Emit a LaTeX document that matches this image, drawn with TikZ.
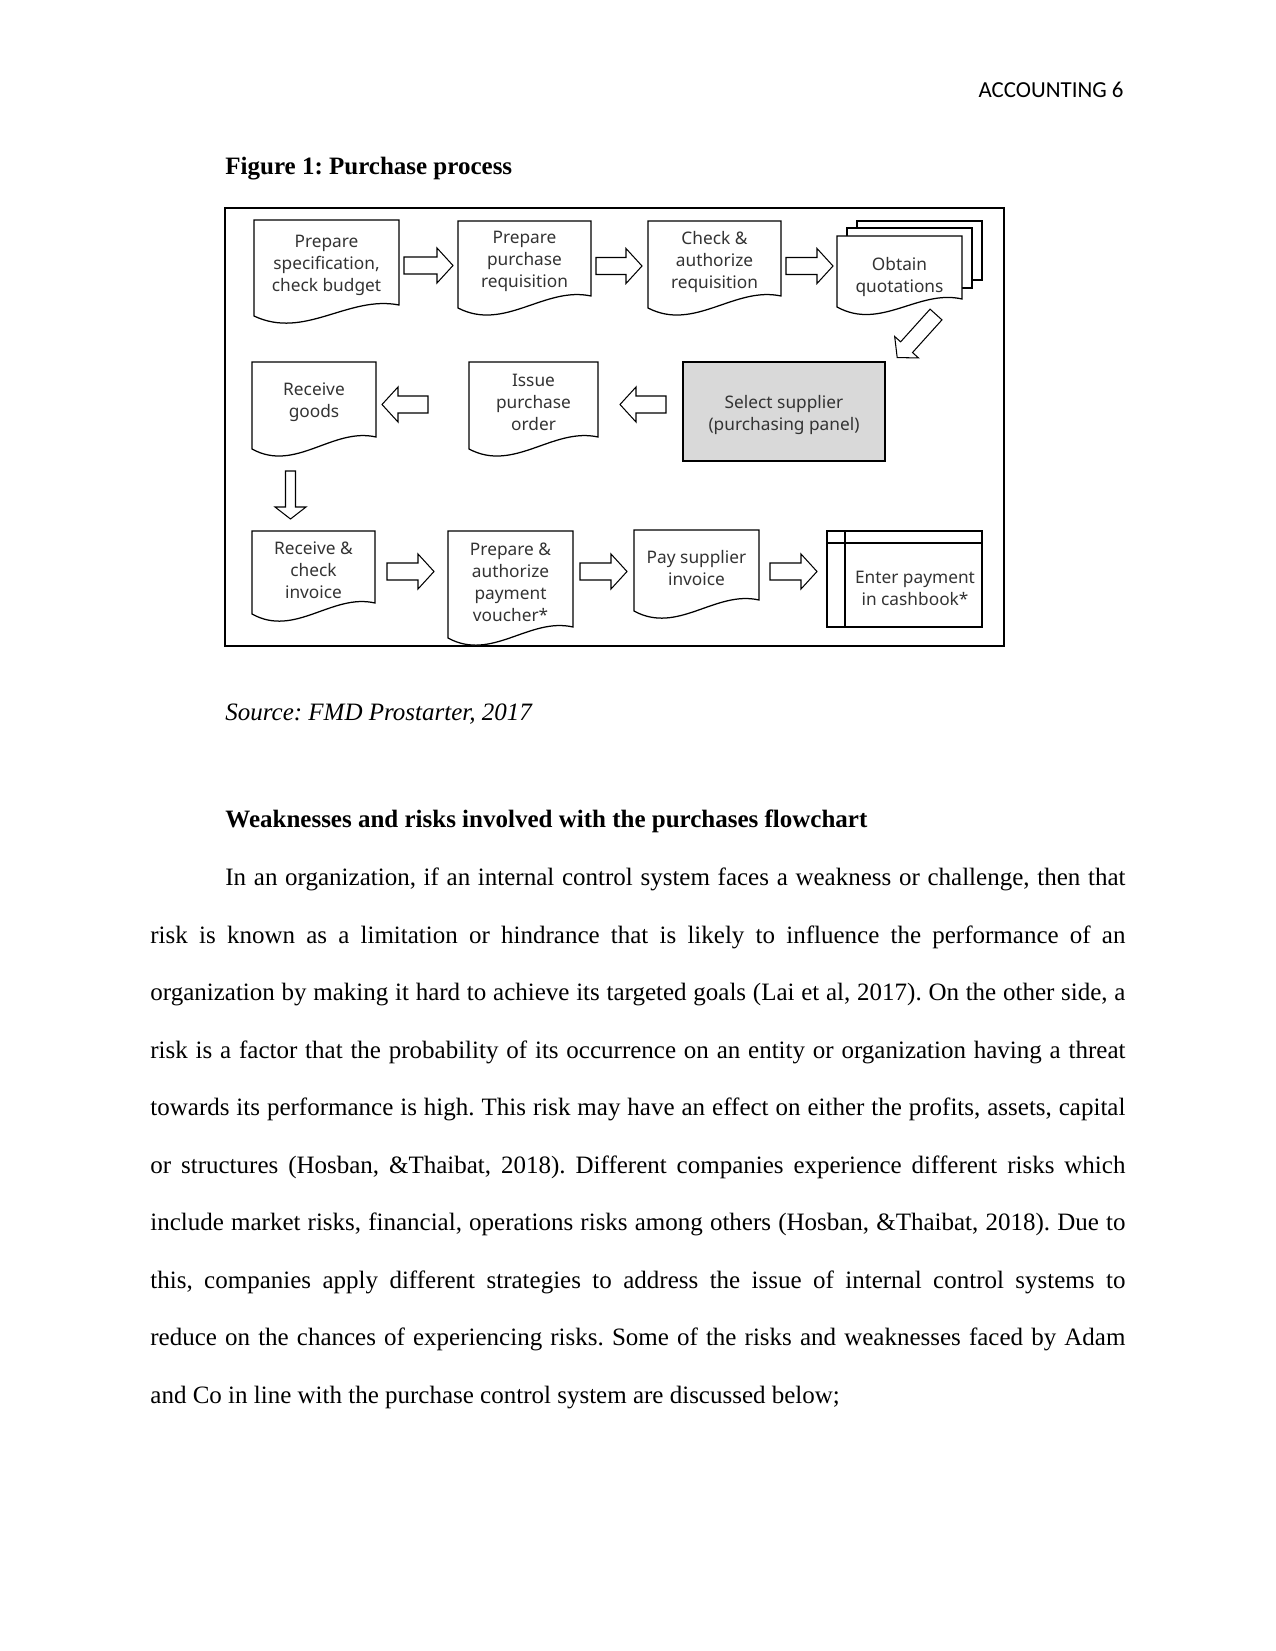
\documentclass[tikz,border=0pt]{standalone}
\usepackage{fontspec}
\setmainfont{Liberation Serif}
\newfontfamily\figfont{Noto Sans}
\newfontfamily\hdrfont{Carlito}
\frenchspacing
% document shape: [extra options], name, x1, y1, x2, yright, yleft, text
\newcommand\docbox[8][]{%
  \draw[docline] (#3,#7) .. controls ({#3+0.35*(#5-#3)},{#7+24}) and ({#5-0.35*(#5-#3)},{#6-10}) .. (#5,#6) -- (#5,#4) -- (#3,#4) -- cycle;
  \node[doctext, #1, minimum width={(#5-#3)*0.48pt}, minimum height={(#6-#4)*0.48pt}] (#2) at ({(#3+#5)/2},{(#4+#6)/2}) {#8};
}
% block arrow: x, y (tail centre), angle, length, shaft half, head half, head length
\newcommand\blockarrow[7]{%
  \draw[barrow, shift={(#1,#2)}, rotate=#3] (0,-#5) -- ({#4-#7},-#5) -- ({#4-#7},-#6) -- (#4,0) -- ({#4-#7},#6) -- ({#4-#7},#5) -- (0,#5) -- cycle;
}
\begin{document}
\begin{tikzpicture}[x=0.48pt,y=-0.48pt,
  docline/.style={draw=black, line width=0.6pt, fill=white},
  doctext/.style={font=\figfont\fontsize{8.3}{10.6}\selectfont, text=black!80, align=center, inner sep=0pt, yshift=-1.5pt},
  barrow/.style={draw=black, line width=0.5pt, fill=white, line join=miter},
  body/.style={font=\fontsize{12}{14}\selectfont, anchor=base west, inner sep=0pt},
  ]
\useasboundingbox[fill=white] (0,0) rectangle (1275,1651);

% header and title
\node[anchor=base east, inner sep=0pt, font=\hdrfont\fontsize{11}{13}\selectfont] (hdr) at (1124,98) {ACCOUNTING 6};
\node[body, font=\fontsize{12}{14}\selectfont\bfseries] (figtitle) at (225,174.5) {Figure 1: Purchase process};

% frame
\draw[line width=0.9pt] (225,208) rectangle (1004,646);

% row 1
\docbox{b1}{254}{220}{399}{305}{316}{Prepare\\specification,\\check budget}
\docbox{b2}{458}{221}{591}{296}{308}{Prepare\\purchase\\requisition}
\docbox{b3}{648}{221}{781}{296}{308}{Check \&\\authorize\\requisition}
\draw[docline] (857,221) rectangle (982,280);
\draw[docline] (847,228) rectangle (972,288);
\docbox[yshift=-3pt]{b4}{837}{236}{962}{299}{307}{Obtain\\quotations}
\blockarrow{404}{265.5}{0}{49}{8.5}{17.5}{16}
\blockarrow{596}{266}{0}{46}{8.5}{17.5}{16}
\blockarrow{786}{266}{0}{47}{8.5}{17.5}{16}
\blockarrow{936}{314.5}{228}{58}{8}{16}{14}

% row 2
\node[draw, line width=0.6pt, fill=gray!30, doctext, yshift=1.5pt, minimum width={202*0.48pt}, minimum height={99*0.48pt}] (sel) at (784,411.5) {};
\node[doctext] (seltext) at (sel.center) {Select supplier\\(purchasing panel)};
\docbox{b6}{469}{362}{598}{437}{449}{Issue\\purchase\\order}
\docbox{b7}{252}{362}{376}{437}{449}{Receive\\goods}
\blockarrow{666}{404.5}{180}{46}{8.5}{17.5}{16}
\blockarrow{428}{404.5}{180}{46}{8.5}{17.5}{16}
\blockarrow{290.5}{471}{-90}{48}{5}{15.5}{12}

% row 3
\docbox{b8}{252}{531}{375}{603}{614}{Receive \&\\check\\invoice}
\docbox{b9}{448}{531}{573}{627}{638}{Prepare \&\\authorize\\payment\\voucher*}
\docbox{b10}{634}{530}{759}{600}{611}{Pay supplier\\invoice}
\node[draw, line width=0.9pt, minimum width={155*0.48pt}, minimum height={96*0.48pt}, inner sep=0pt] (cash) at (904.5,579) {};
\draw[line width=0.9pt] ([xshift={19*0.48pt}]cash.north west) -- ([xshift={19*0.48pt}]cash.south west);
\draw[line width=0.9pt] ([yshift={-13*0.48pt}]cash.north west) -- ([yshift={-13*0.48pt}]cash.north east);
\node[doctext, yshift=0.5pt] (cashtext) at (915,586) {Enter payment\\in cashbook*};
\blockarrow{387}{571.5}{0}{47}{8.5}{17.5}{16}
\blockarrow{580}{571.5}{0}{47}{8.5}{17.5}{16}
\blockarrow{770}{571.5}{0}{47}{8.5}{17.5}{16}

% source and heading
\node[body, font=\fontsize{12}{14}\selectfont\itshape] (src) at (225,720) {Source: FMD Prostarter, 2017};
\node[body, font=\fontsize{12}{14}\selectfont\bfseries] (head) at (225,827) {Weaknesses and risks involved with the purchases flowchart};

% paragraph
\node[body] (p1) at (225,885.5) {\makebox[432pt][s]{In an organization, if an internal control system faces a weakness or challenge, then that}};
\node[body] (p2) at (150,943) {\makebox[468pt][s]{risk is known as a limitation or hindrance that is likely to influence the performance of an}};
\node[body] (p3) at (150,1000.5) {\makebox[468pt][s]{organization by making it hard to achieve its targeted goals (Lai et al, 2017). On the other side, a}};
\node[body] (p4) at (150,1058) {\makebox[468pt][s]{risk is a factor that the probability of its occurrence on an entity or organization having a threat}};
\node[body] (p5) at (150,1115.5) {\makebox[468pt][s]{towards its performance is high. This risk may have an effect on either the profits, assets, capital}};
\node[body] (p6) at (150,1173) {\makebox[468pt][s]{or structures (Hosban, \&Thaibat, 2018). Different companies experience different risks which}};
\node[body] (p7) at (150,1230.5) {\makebox[468pt][s]{include market risks, financial, operations risks among others (Hosban, \&Thaibat, 2018). Due to}};
\node[body] (p8) at (150,1288) {\makebox[468pt][s]{this, companies apply different strategies to address the issue of internal control systems to}};
\node[body] (p9) at (150,1345.5) {\makebox[468pt][s]{reduce on the chances of experiencing risks. Some of the risks and weaknesses faced by Adam}};
\node[body] (p10) at (150,1403) {and Co in line with the purchase control system are discussed below;};
\end{tikzpicture}
\end{document}
